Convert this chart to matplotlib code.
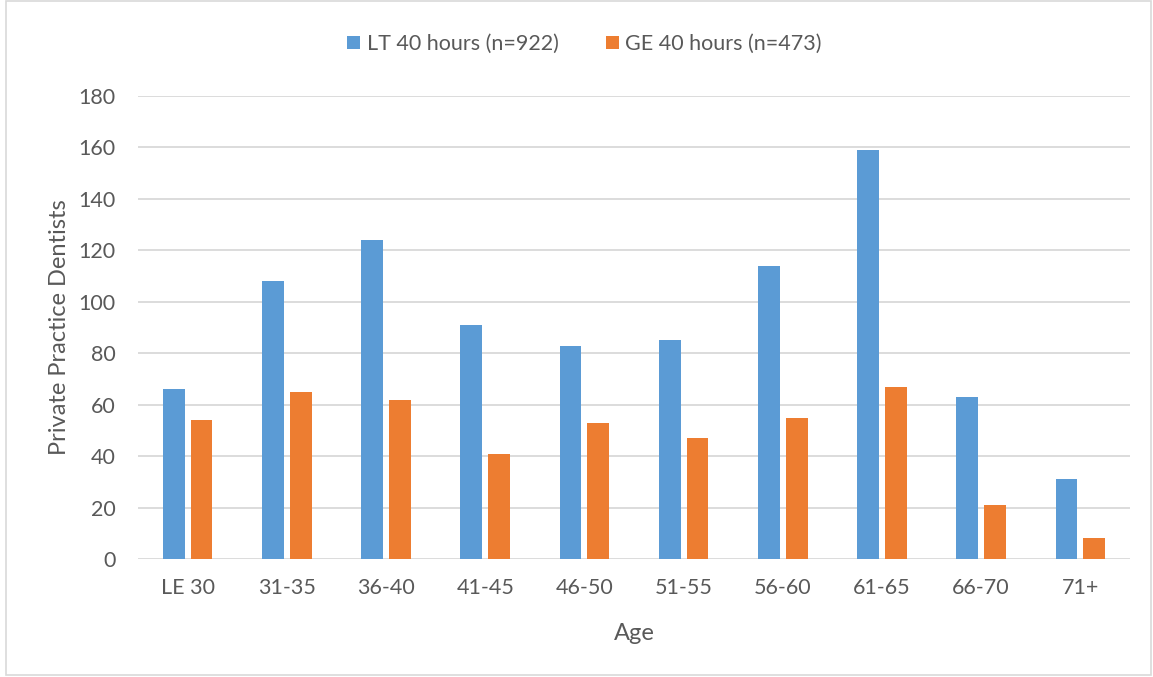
import matplotlib
matplotlib.use("Agg")
import matplotlib.pyplot as plt
import numpy as np
from matplotlib.patches import Rectangle

# age groups and counts
ages = ["LE 30", "31-35", "36-40", "41-45", "46-50", "51-55", "56-60", "61-65", "66-70", "71+"]
lt40 = [66, 108, 124, 91, 83, 85, 114, 159, 63, 31]
ge40 = [54, 65, 62, 41, 53, 47, 55, 67, 21, 8]

blue = "#5B9BD5"
orange = "#ED7D31"
txt = "#595959"

plt.rcParams['font.family'] = ['Lato', 'DejaVu Sans']

fig = plt.figure(figsize=(11.53, 6.77), dpi=100)
ax = fig.add_axes([0.1197, 0.1743, 0.8603, 0.6839])

x = np.arange(len(ages))
w = 0.22
ax.bar(x - 0.14, lt40, w, color=blue, label="LT 40 hours (n=922)", zorder=3)
ax.bar(x + 0.14, ge40, w, color=orange, label="GE 40 hours (n=473)", zorder=3)

ax.set_xlim(-0.5, len(ages) - 0.5)
ax.set_ylim(0, 180)
ax.set_yticks(range(0, 181, 20))
ax.set_xticks(x)
ax.set_xticklabels(ages)
ax.tick_params(axis='both', length=0, labelsize=15.5, colors=txt)
ax.tick_params(axis='y', pad=16)
ax.tick_params(axis='x', pad=14)
ax.grid(axis='y', color="#D9D9D9", linewidth=1.3, zorder=0)
for s in ax.spines.values():
    s.set_visible(False)

ax.set_xlabel("Age", fontsize=17, color=txt, labelpad=18)
ax.set_ylabel("Private Practice Dentists", fontsize=17, color=txt, labelpad=6)

fig.legend(loc='center', bbox_to_anchor=(0.507, 0.935), ncol=2, frameon=False,
           fontsize=15.5, labelcolor=txt, handlelength=0.6, handleheight=0.6,
           handletextpad=0.3, columnspacing=2.2)

fig.patches.append(Rectangle((0.005, 0.003), 0.993, 0.995, transform=fig.transFigure,
                             fill=False, edgecolor="#D9D9D9", linewidth=1.2))

fig.savefig("out.png", dpi=100)
